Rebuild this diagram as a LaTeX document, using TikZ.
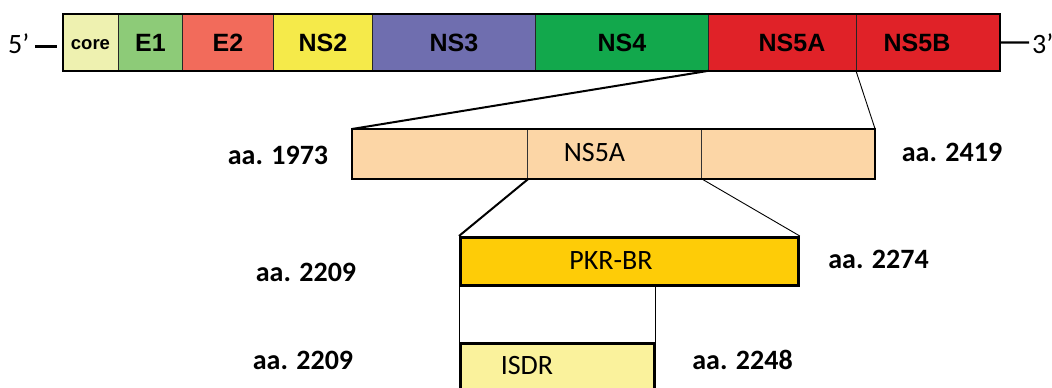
\documentclass[tikz,border=0pt]{standalone}
\usepackage{fontspec}
\setmainfont{Carlito}
\newfontfamily\segfont{Liberation Sans}

\definecolor{ccore}{HTML}{EEF1B0}
\definecolor{ce1}{HTML}{8DCB78}
\definecolor{ce2}{HTML}{F26B5B}
\definecolor{cns2}{HTML}{F5EA4A}
\definecolor{cns3}{HTML}{6F6EAF}
\definecolor{cns4}{HTML}{12A84C}
\definecolor{cns5}{HTML}{E02228}
\definecolor{cpeach}{HTML}{FCD6A6}
\definecolor{cgold}{HTML}{FECC07}
\definecolor{cisdr}{HTML}{FAF29C}

\tikzset{
  seg/.style={draw=black!85, line width=0.9pt, anchor=north west, inner sep=0pt,
    minimum height=56pt, font=\segfont\bfseries\fontsize{25}{25}\selectfont},
  segtxt/.style={font=\segfont\bfseries\fontsize{25}{25}\selectfont, inner sep=0pt},
  outline/.style={draw=black, line width=2.2pt},
  part/.style={draw=black!80, line width=1.1pt, anchor=north west, inner sep=0pt, minimum height=49pt, fill=cpeach},
  region/.style={draw=black, line width=2.8pt, anchor=north west, inner sep=0pt},
  txt/.style={font=\fontsize{28}{28}\selectfont, inner sep=0pt},
  aa/.style={font=\bfseries\fontsize{28}{28}\selectfont, inner sep=0pt},
  thickconn/.style={draw=black, line width=2pt},
  thinconn/.style={draw=black, line width=0.9pt},
}

\begin{document}
\begin{tikzpicture}[x=1pt,y=-1pt]
\clip (0,0) rectangle (1052,388);

% genome polyprotein segments
\node[seg, fill=ccore, minimum width=55pt] (core) at (63,14) {};
\node[segtxt, font=\segfont\bfseries\fontsize{18.5}{18.5}\selectfont] (tcore) at (90.5,44.5) {core};
\node[seg, fill=ce1,  minimum width=64pt]  (e1)   at (118,14) {E1};
\node[seg, fill=ce2,  minimum width=91pt]  (e2)   at (182,14) {E2};
\node[seg, fill=cns2, minimum width=99pt]  (ns2)  at (273,14) {NS2};
\node[seg, fill=cns3, minimum width=163pt] (ns3)  at (372,14) {NS3};
\node[seg, fill=cns4, minimum width=173pt] (ns4)  at (535,14) {NS4};
\node[seg, fill=cns5, minimum width=148pt] (ns5a) at (708,14) {};
\node[seg, fill=cns5, minimum width=143pt] (ns5b) at (856,14) {};
\node[segtxt] (tns5a) at (792,42.5) {NS5A};
\node[segtxt] (tns5b) at (917,42.5) {NS5B};
\draw[outline] (core.north west) rectangle (ns5b.south east);

% 5' and 3' ends
\node[txt, anchor=base west] (five) at (8,53) {5’};
\node[txt, anchor=base west] (three) at (1032,53) {3’};
\coordinate (d5a) at (35,46);
\coordinate (d5b) at (57,46);
\draw[line width=3pt] (d5a) -- (d5b);
\coordinate (d3) at (1029,42.5);
\draw[line width=2.3pt] (ns5b.east) -- (d3);

% NS5A protein
\node[part, minimum width=175pt] (pl) at (352,129) {};
\node[part, minimum width=174pt] (pm) at (527,129) {};
\node[part, minimum width=173pt] (pr) at (701,129) {};
\draw[draw=black, line width=2.4pt] (pl.north west) rectangle (pr.south east);
\node[txt] (tns5abox) at (594.5,152.7) {NS5A};

\draw[thickconn] (ns5a.south west) -- (pl.north west);
\draw[thinconn] (ns5b.south west) -- (pr.north east);

% PKR binding region
\node[region, fill=cgold, minimum width=338pt, minimum height=48pt] (pkr) at (459,236) {};
\node[txt] (tpkr) at (611,260.7) {PKR-BR};
\draw[thickconn] (pl.south east) -- (pkr.north west);
\draw[thinconn] (pm.south east) -- (pkr.north east);

% interferon sensitivity determining region
\node[region, fill=cisdr, minimum width=194pt, minimum height=56pt] (isdr) at (459,342) {};
\node[txt] (tisdr) at (527,366) {ISDR};
\draw[thinconn] (pkr.south west) -- (isdr.north west);
\draw[thinconn] (isdr.north east) -- (isdr.north east |- pkr.south);

% amino-acid positions
\node[aa] (l1973)  at (278,155)   {aa. 1973};
\node[aa] (l2419)  at (952,152)   {aa. 2419};
\node[aa] (l2209a) at (306,272)   {aa. 2209};
\node[aa] (l2274)  at (878.5,259) {aa. 2274};
\node[aa] (l2209b) at (303,360)   {aa. 2209};
\node[aa] (l2248)  at (742.5,360) {aa. 2248};
\end{tikzpicture}
\end{document}
